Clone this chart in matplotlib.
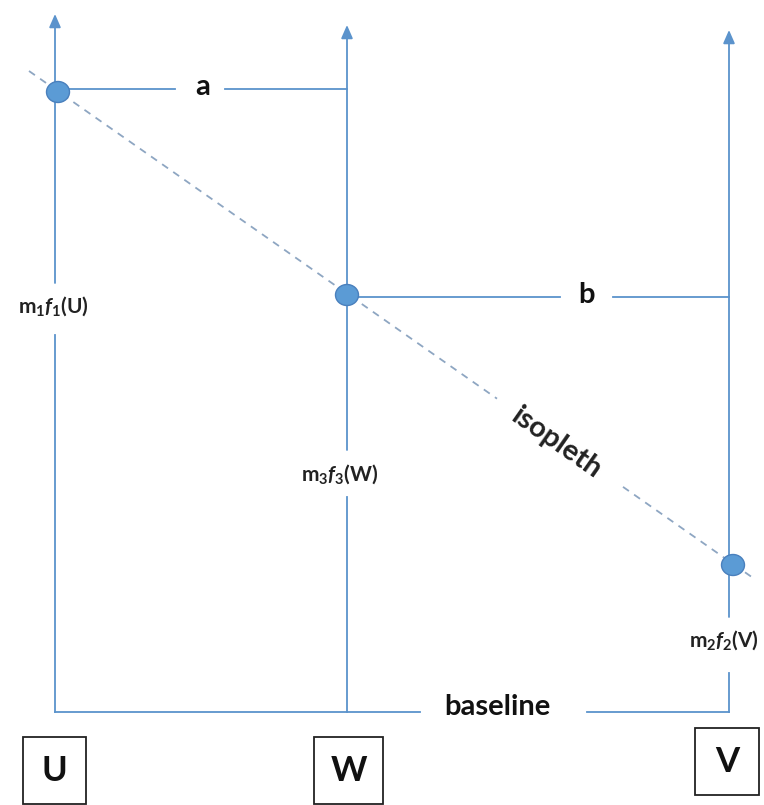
import matplotlib.pyplot as plt
from matplotlib.patches import Ellipse, Rectangle

# ---- fonts ----
plt.rcParams['font.family'] = ['Lato', 'DejaVu Sans']
plt.rcParams['mathtext.fontset'] = 'custom'
plt.rcParams['mathtext.rm'] = 'Lato:weight=bold'
plt.rcParams['mathtext.it'] = 'Lato:style=italic:weight=bold'
plt.rcParams['mathtext.bf'] = 'Lato:weight=bold'

# ---- diagram values (pixel space of the 764x805 canvas) ----
axis_names = ['U', 'W', 'V']
axis_x = [55, 347, 729]
axis_top = [14, 25, 30]
baseline_y = 712
axis_gaps = [(283, 335), (450, 497), (617, 673)]   # gaps for the scale labels
scale_labels = [r'$\mathbf{m}_\mathbf{1}\mathit{f}_\mathbf{1}\mathbf{(U)}$',
                r'$\mathbf{m}_\mathbf{3}\mathit{f}_\mathbf{3}\mathbf{(W)}$',
                r'$\mathbf{m}_\mathbf{2}\mathit{f}_\mathbf{2}\mathbf{(V)}$']
scale_label_pos = [(53, 306), (340, 474), (724, 640)]

point_x = [58, 347, 733]
point_y = [92, 295, 565]

iso_start = (29, 71)
iso_end = (756, 580)
iso_gap = (497, 623)

dist_labels = ['a', 'b']
dist_y = [89, 297]
dist_gap = [(175, 225), (560, 613)]
dist_label_x = [203, 587]

box_xy = [(23, 737), (314, 737), (695, 728)]
box_size = [(63, 67), (69, 67), (64, 67)]

blue = '#5b93cc'
dash_col = '#8ea6c2'

fig = plt.figure(figsize=(7.64, 8.05), dpi=100)
ax = fig.add_axes([0, 0, 1, 1])
ax.set_xlim(0, 764)
ax.set_ylim(805, 0)
ax.axis('off')

# ---- vertical scales ----
for x, top, (g0, g1), lab, (lx, ly) in zip(axis_x, axis_top, axis_gaps,
                                          scale_labels, scale_label_pos):
    ax.plot([x, x], [baseline_y, g1], color=blue, lw=1.3)
    ax.annotate('', xy=(x, top), xytext=(x, g0),
                arrowprops=dict(arrowstyle='-|>,head_length=0.8,head_width=0.35',
                                color=blue, lw=1.3, shrinkA=0, shrinkB=0))
    ax.text(lx, ly, lab, ha='center', va='center', fontsize=15, color='#222222')

# ---- baseline ----
ax.plot([axis_x[0], 420], [baseline_y, baseline_y], color=blue, lw=1.3)
ax.plot([587, axis_x[2]], [baseline_y, baseline_y], color=blue, lw=1.3)
ax.text(497, 707, 'baseline', ha='center', va='center', fontsize=21,
        fontweight='bold', color='#111111')

# ---- distances a, b ----
for i, (lab, y, (g0, g1), lx) in enumerate(zip(dist_labels, dist_y, dist_gap, dist_label_x)):
    ax.plot([point_x[i], g0], [y, y], color=blue, lw=1.3)
    ax.plot([g1, axis_x[i + 1]], [y, y], color=blue, lw=1.3)
    ax.text(lx, y - 2, lab, ha='center', va='center', fontsize=21,
            fontweight='bold', color='#111111')

# ---- isopleth ----
slope = (iso_end[1] - iso_start[1]) / (iso_end[0] - iso_start[0])
y_at = lambda x: iso_start[1] + slope * (x - iso_start[0])
ax.plot([iso_start[0], iso_gap[0]], [iso_start[1], y_at(iso_gap[0])],
        color=dash_col, lw=1.3, ls=(0, (4, 3.5)))
ax.plot([iso_gap[1], iso_end[0]], [y_at(iso_gap[1]), iso_end[1]],
        color=dash_col, lw=1.3, ls=(0, (4, 3.5)))
ax.text(556, 443, 'isopleth', ha='center', va='center', fontsize=21,
        fontweight='bold', rotation=-35, rotation_mode='anchor', color='#222222')

# ---- points ----
for px, py in zip(point_x, point_y):
    ax.add_patch(Ellipse((px, py), 23, 21, facecolor='#5b9bd5',
                         edgecolor='#4a80bd', lw=1, zorder=5))

# ---- boxed axis names ----
for name, (bx, by), (bw, bh) in zip(axis_names, box_xy, box_size):
    ax.add_patch(Rectangle((bx, by), bw, bh, fill=False, edgecolor='#222222', lw=1.3))
    ax.text(bx + bw / 2, by + bh / 2, name, ha='center', va='center',
            fontsize=25, fontweight='bold', color='#111111')

fig.savefig('out.png', dpi=100)
